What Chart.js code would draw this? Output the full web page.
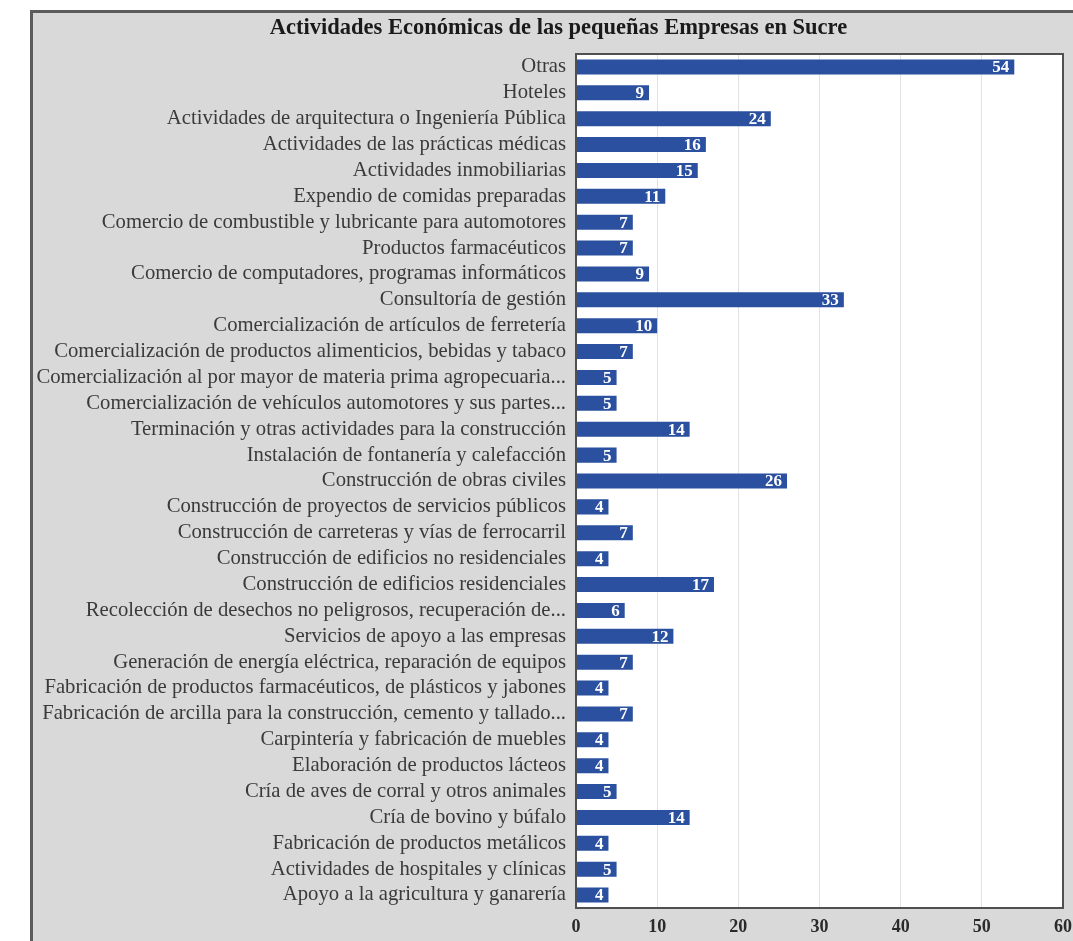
<!DOCTYPE html>
<html>
<head>
<meta charset="utf-8">
<script src="https://cdn.jsdelivr.net/npm/chart.js@4"></script>
<style>
html,body{margin:0;padding:0;background:#fff;}
#wrap{width:1073px;height:941px;position:relative;}
</style>
</head>
<body>
<div id="wrap"><canvas id="c" width="1073" height="941"></canvas></div>
<script>
const chartTitle = 'Actividades Económicas de las pequeñas Empresas en Sucre';
const categories = [
  'Otras',
  'Hoteles',
  'Actividades de arquitectura o Ingeniería Pública',
  'Actividades de las prácticas médicas',
  'Actividades inmobiliarias',
  'Expendio de comidas preparadas',
  'Comercio de combustible y lubricante para automotores',
  'Productos farmacéuticos',
  'Comercio de computadores, programas informáticos',
  'Consultoría de gestión',
  'Comercialización de artículos de ferretería',
  'Comercialización de productos alimenticios, bebidas y tabaco',
  'Comercialización al por mayor de materia prima agropecuaria...',
  'Comercialización de vehículos automotores y sus partes...',
  'Terminación y otras actividades para la construcción',
  'Instalación de fontanería y calefacción',
  'Construcción de obras civiles',
  'Construcción de proyectos de servicios públicos',
  'Construcción de carreteras y vías de ferrocarril',
  'Construcción de edificios no residenciales',
  'Construcción de edificios residenciales',
  'Recolección de desechos no peligrosos, recuperación de...',
  'Servicios de apoyo a las empresas',
  'Generación de energía eléctrica, reparación de equipos',
  'Fabricación de productos farmacéuticos, de plásticos y jabones',
  'Fabricación de arcilla para la construcción, cemento y tallado...',
  'Carpintería y fabricación de muebles',
  'Elaboración de productos lácteos',
  'Cría de aves de corral y otros animales',
  'Cría de bovino y búfalo',
  'Fabricación de productos metálicos',
  'Actividades de hospitales y clínicas',
  'Apoyo a la agricultura y ganarería'
];
const values = [54, 9, 24, 16, 15, 11, 7, 7, 9, 33, 10, 7, 5, 5, 14, 5, 26, 4, 7, 4, 17, 6, 12, 7, 4, 7, 4, 4, 5, 14, 4, 5, 4];
const xTickValues = [0, 10, 20, 30, 40, 50, 60];

const SERIF = '"Liberation Serif", "Times New Roman", serif';

const panelPlugin = {
  id: 'panel',
  beforeDraw(chart) {
    const ctx = chart.ctx;
    const a = chart.chartArea;
    ctx.save();
    ctx.fillStyle = '#ffffff';
    ctx.fillRect(0, 0, chart.width, chart.height);
    ctx.fillStyle = '#d9d9d9';
    ctx.fillRect(30, 10, chart.width, chart.height);
    ctx.strokeStyle = '#5c5c5c';
    ctx.lineWidth = 3;
    ctx.beginPath();
    ctx.moveTo(31.5, chart.height);
    ctx.lineTo(31.5, 11.5);
    ctx.lineTo(chart.width, 11.5);
    ctx.stroke();
    ctx.fillStyle = '#ffffff';
    ctx.fillRect(a.left, a.top, a.right - a.left, a.bottom - a.top);
    ctx.restore();
  },
  afterDraw(chart) {
    const ctx = chart.ctx;
    const a = chart.chartArea;
    ctx.save();
    ctx.strokeStyle = '#505050';
    ctx.lineWidth = 2;
    ctx.strokeRect(a.left, a.top, a.right - a.left, a.bottom - a.top);
    ctx.restore();
  }
};

const valueLabelPlugin = {
  id: 'valueLabels',
  afterDatasetsDraw(chart) {
    const ctx = chart.ctx;
    const meta = chart.getDatasetMeta(0);
    ctx.save();
    ctx.fillStyle = '#ffffff';
    ctx.font = 'bold 17px ' + SERIF;
    ctx.textAlign = 'right';
    ctx.textBaseline = 'middle';
    meta.data.forEach((bar, i) => {
      ctx.fillText(String(values[i]), bar.x - 5, bar.y + 1);
    });
    ctx.restore();
  }
};

new Chart(document.getElementById('c'), {
  type: 'bar',
  data: {
    labels: categories,
    datasets: [{
      data: values,
      backgroundColor: '#2a509f',
      borderWidth: 0,
      barPercentage: 0.58,
      categoryPercentage: 1.0
    }]
  },
  options: {
    indexAxis: 'y',
    responsive: false,
    animation: false,
    layout: { padding: { left: 34, right: -10, top: 0, bottom: 0 } },
    plugins: {
      legend: { display: false },
      tooltip: { enabled: false },
      title: {
        display: true,
        text: chartTitle,
        color: '#1a1a1a',
        font: { family: SERIF, size: 22.5, weight: 'bold', lineHeight: 1.2 },
        padding: { top: 15, bottom: 12 }
      }
    },
    scales: {
      x: {
        min: 0,
        max: 60,
        afterBuildTicks(scale) { scale.ticks = xTickValues.map(v => ({ value: v })); },
        afterFit(scale) { scale.height = 33; scale.paddingRight = 10; scale.paddingLeft = 0; },
        grid: { color: '#e2e2e2', lineWidth: 1, drawTicks: false },
        border: { display: false },
        ticks: {
          color: '#2a2a2a',
          padding: 9,
          maxRotation: 0,
          font: { family: SERIF, size: 18, weight: 'bold', lineHeight: 1.2 }
        }
      },
      y: {
        afterFit(scale) { scale.width = 542; },
        grid: { display: false, drawTicks: false },
        border: { display: false },
        ticks: {
          autoSkip: false,
          color: '#3a3a3a',
          padding: 10,
          font: { family: SERIF, size: 20.7, lineHeight: 1.2 }
        }
      }
    }
  },
  plugins: [panelPlugin, valueLabelPlugin]
});
</script>
</body>
</html>
